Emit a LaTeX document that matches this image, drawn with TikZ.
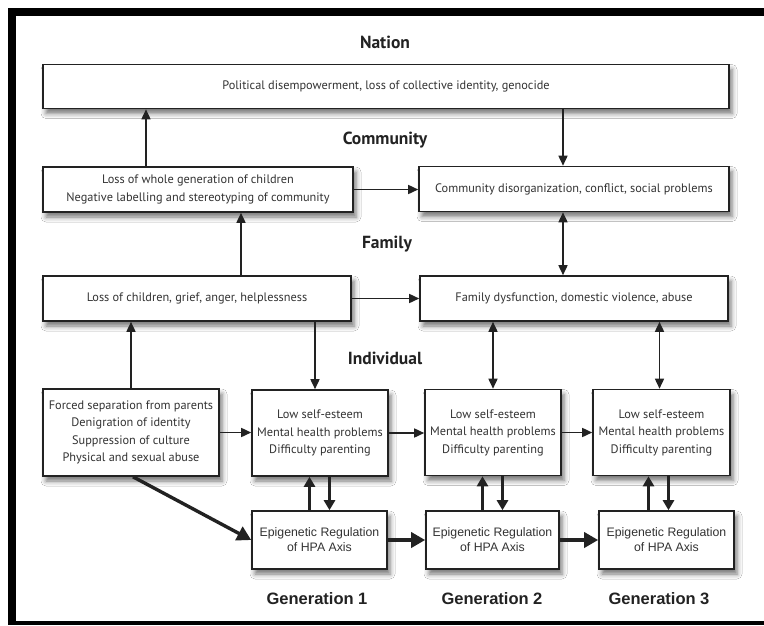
\documentclass[tikz,border=0pt]{standalone}
\usepackage{fontspec}
\setmainfont{PT Sans}
\newfontfamily\arialfont{Liberation Sans}
\usetikzlibrary{arrows.meta,shadows.blur}

\definecolor{ink}{HTML}{222222}
\definecolor{txt}{HTML}{333333}

\tikzset{
  box/.style={draw=ink, line width=1.6pt, fill=white, align=center,
    text=txt, font=\fontsize{12.3}{17.5}\selectfont, inner sep=0pt,
    blur shadow={shadow xshift=3pt, shadow yshift=-5pt,
      shadow blur radius=5pt, shadow opacity=55}},
  epibox/.style={box, font=\arialfont\fontsize{12.3}{15}\selectfont},
  level/.style={font=\bfseries\fontsize{17.5}{19}\selectfont, text=ink},
  gen/.style={font=\arialfont\bfseries\fontsize{16.5}{18}\selectfont, text=ink},
  arr/.style={draw=ink, line width=1.6pt, -{Triangle[length=10pt,width=9pt]}},
  darr/.style={draw=ink, line width=1.6pt,
    {Triangle[length=10pt,width=9pt]}-{Triangle[length=10pt,width=9pt]}},
  tarr/.style={draw=ink, line width=3.4pt, -{Triangle[length=14pt,width=15pt]}},
  farr/.style={draw=ink, line width=3.4pt, -{Triangle[length=10pt,width=11pt]}},
}

\begin{document}
\begin{tikzpicture}[x=1pt, y=-1pt]
\useasboundingbox (0,0) rectangle (764,625);
\fill[white] (0,0) rectangle (764,625);

% frame
\fill[black] (8,8) rectangle (764,16);
\fill[black] (8,8) rectangle (16,625);
\fill[black] (8,621) rectangle (764,625);

% level headings
\node[level] (hNation) at (385,42) {Nation};
\node[level] (hCommunity) at (385,140) {Community};
\node[level] (hFamily) at (387,244) {Family};
\node[level] (hIndividual) at (385,358) {Individual};

% nation and community
\node[box, minimum width=686pt, minimum height=44pt] (nation) at (386,86.5)
  {Political disempowerment, loss of collective identity, genocide};
\node[box, minimum width=310pt, minimum height=45pt] (commL) at (198,189.5)
  {Loss of whole generation of children\\Negative labelling and stereotyping of community};
\node[box, minimum width=310pt, minimum height=45pt] (commR) at (574,189)
  {Community disorganization, conflict, social problems};

% family
\node[box, minimum width=308pt, minimum height=45pt] (famL) at (197,298.5)
  {Loss of children, grief, anger, helplessness};
\node[box, minimum width=308pt, minimum height=45pt] (famR) at (574,298.5)
  {Family dysfunction, domestic violence, abuse};

% individual
\node[box, minimum width=176pt, minimum height=87pt] (forced) at (131,432.5)
  {Forced separation from parents\\Denigration of identity\\Suppression of culture\\Physical and sexual abuse};
\node[box, minimum width=136pt, minimum height=86pt] (lse1) at (320,433)
  {Low self-esteem\\Mental health problems\\Difficulty parenting};
\node[box, minimum width=136pt, minimum height=86pt] (lse2) at (493,432.5)
  {Low self-esteem\\Mental health problems\\Difficulty parenting};
\node[box, minimum width=137pt, minimum height=86pt] (lse3) at (661.5,432.5)
  {Low self-esteem\\Mental health problems\\Difficulty parenting};

% epigenetic layer
\node[epibox, minimum width=135pt, minimum height=58pt] (epi1) at (319.5,540)
  {Epigenetic Regulation\\of HPA Axis};
\node[epibox, minimum width=133pt, minimum height=58pt] (epi2) at (492.5,540)
  {Epigenetic Regulation\\of HPA Axis};
\node[epibox, minimum width=135pt, minimum height=58pt] (epi3) at (666.5,540)
  {Epigenetic Regulation\\of HPA Axis};

% generation captions
\node[gen] (g1) at (317,599) {Generation 1};
\node[gen] (g2) at (492,599) {Generation 2};
\node[gen] (g3) at (659,599) {Generation 3};

% anchor points for offset connectors
\coordinate (cl) at ([xshift=-52pt]commL.north);
\coordinate (cr) at ([xshift=-11pt]commR.north);
\coordinate (fr) at ([xshift=-11pt]famR.north);
\coordinate (fl) at ([xshift=44pt]famL.north);
\coordinate (l1) at ([xshift=-5pt]lse1.north);
\coordinate (l3) at ([xshift=-2pt]lse3.north);
\coordinate (u1) at ([xshift=-10pt]epi1.north);
\coordinate (d1) at ([xshift=10pt]epi1.north);
\coordinate (u2) at ([xshift=-10pt]epi2.north);
\coordinate (d2) at ([xshift=10pt]epi2.north);
\coordinate (u3) at ([xshift=-18pt]epi3.north);
\coordinate (d3) at ([xshift=2pt]epi3.north);
\coordinate (fb) at ([xshift=2pt]forced.south);

% connectors
\draw[arr] (cl) -- (cl |- nation.south);
\draw[arr] (cr |- nation.south) -- (cr);
\draw[arr] (commL.east) -- (commL.east -| commR.west);
\draw[darr] (fr |- commR.south) -- (fr);
\draw[arr] (fl) -- (fl |- commL.south);
\draw[arr] (famL.east) -- (famL.east -| famR.west);
\draw[arr] (forced.north) -- (forced.north |- famL.south);
\draw[arr] (l1 |- famL.south) -- (l1);
\draw[darr] (lse2.north |- famR.south) -- (lse2.north);
\draw[darr] (l3 |- famR.south) -- (l3);
\draw[arr] (forced.east) -- (forced.east -| lse1.west);
\draw[arr] (lse1.east) -- (lse1.east -| lse2.west);
\draw[arr] (lse2.east) -- (lse2.east -| lse3.west);

% epigenetic feedback
\draw[farr] (u1) -- (u1 |- lse1.south);
\draw[farr] (d1 |- lse1.south) -- (d1);
\draw[farr] (u2) -- (u2 |- lse2.south);
\draw[farr] (d2 |- lse2.south) -- (d2);
\draw[farr] (u3) -- (u3 |- lse3.south);
\draw[farr] (d3 |- lse3.south) -- (d3);

\draw[tarr] (fb) -- (epi1.west);
\draw[tarr] (epi1.east) -- (epi1.east -| epi2.west);
\draw[tarr] (epi2.east) -- (epi2.east -| epi3.west);
\end{tikzpicture}
\end{document}
